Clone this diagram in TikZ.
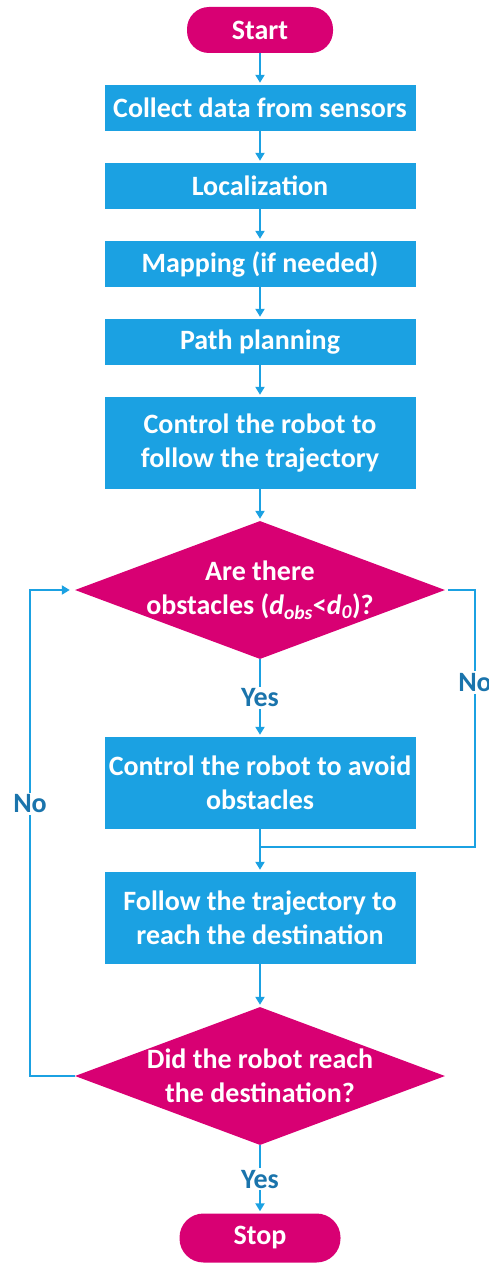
\documentclass[tikz,border=0pt]{standalone}
\usepackage{fontspec}
\setmainfont{Carlito}
\usetikzlibrary{shapes.geometric,arrows.meta}
\definecolor{boxblue}{HTML}{1BA1E2}
\definecolor{termpink}{HTML}{D80073}
\definecolor{answerblue}{HTML}{1A74AC}
\tikzset{
  procbox/.style={rectangle, fill=boxblue, text=white, minimum width=311pt, minimum height=46pt, inner sep=0pt, align=center},
  termbox/.style={rectangle, rounded corners=22pt, fill=termpink, text=white, minimum height=46pt, inner sep=0pt},
  decbox/.style={diamond, aspect=2.68, fill=termpink, text=white, minimum width=370pt, minimum height=138pt, inner xsep=-40pt, inner ysep=0pt, align=center},
  flowline/.style={draw=boxblue, line width=2pt},
  flowarrow/.style={flowline, -{Triangle[length=8pt,width=9pt]}, shorten >=2pt},
  answer/.style={fill=white, text=answerblue, inner sep=2pt}
}
\begin{document}
\begin{tikzpicture}[x=1pt, y=-1pt, font=\bfseries\fontsize{28pt}{34pt}\selectfont]
\useasboundingbox (0,0) rectangle (489,1263);
% boxes
\node[termbox, minimum width=146pt] (start) at (260,30) {Start};
\node[procbox] (collect) at (260,108) {Collect data from sensors};
\node[procbox] (local) at (260,186) {Localization};
\node[procbox] (mapping) at (260,264) {Mapping (if needed)};
\node[procbox] (path) at (260,342) {Path planning};
\node[procbox, minimum height=92pt] (follow) at (260,443) {Control the robot to\\follow the trajectory};
\node[decbox] (obst) at (260,590) {Are there\\obstacles (\textit{d\textsubscript{obs}}<\textit{d\textsubscript{0}})?};
\node[procbox, minimum height=92pt] (avoid) at (260,783) {Control the robot to avoid\\obstacles};
\node[procbox, minimum height=92pt] (reach) at (260,918) {Follow the trajectory to\\reach the destination};
\node[decbox] (done) at (260,1076) {Did the robot reach\\the destination?};
\node[termbox, minimum width=161pt, minimum height=49pt, rounded corners=24pt] (stop) at (260,1238) {Stop};
\coordinate (join) at (260,847);
\coordinate (rturn) at (475,847);
\coordinate (lturn) at (30,590);
% connectors
\draw[flowarrow] (start) -- (collect);
\draw[flowarrow] (collect) -- (local);
\draw[flowarrow] (local) -- (mapping);
\draw[flowarrow] (mapping) -- (path);
\draw[flowarrow] (path) -- (follow);
\draw[flowarrow] (follow) -- (obst);
\draw[flowarrow] (obst) -- node[answer]{Yes} (avoid);
\draw[flowarrow] (avoid) -- (reach);
\draw[flowline] ([xshift=3pt]obst.east) -| node[answer, pos=0.68]{No} (rturn) -- (join);
\draw[flowarrow] (reach) -- (done);
\draw[flowarrow] (done) -- node[answer]{Yes} (stop);
\draw[flowarrow, shorten >=5pt] (done.west) -| node[answer, pos=0.78]{No} (lturn) -- (obst.west);
\end{tikzpicture}
\end{document}
